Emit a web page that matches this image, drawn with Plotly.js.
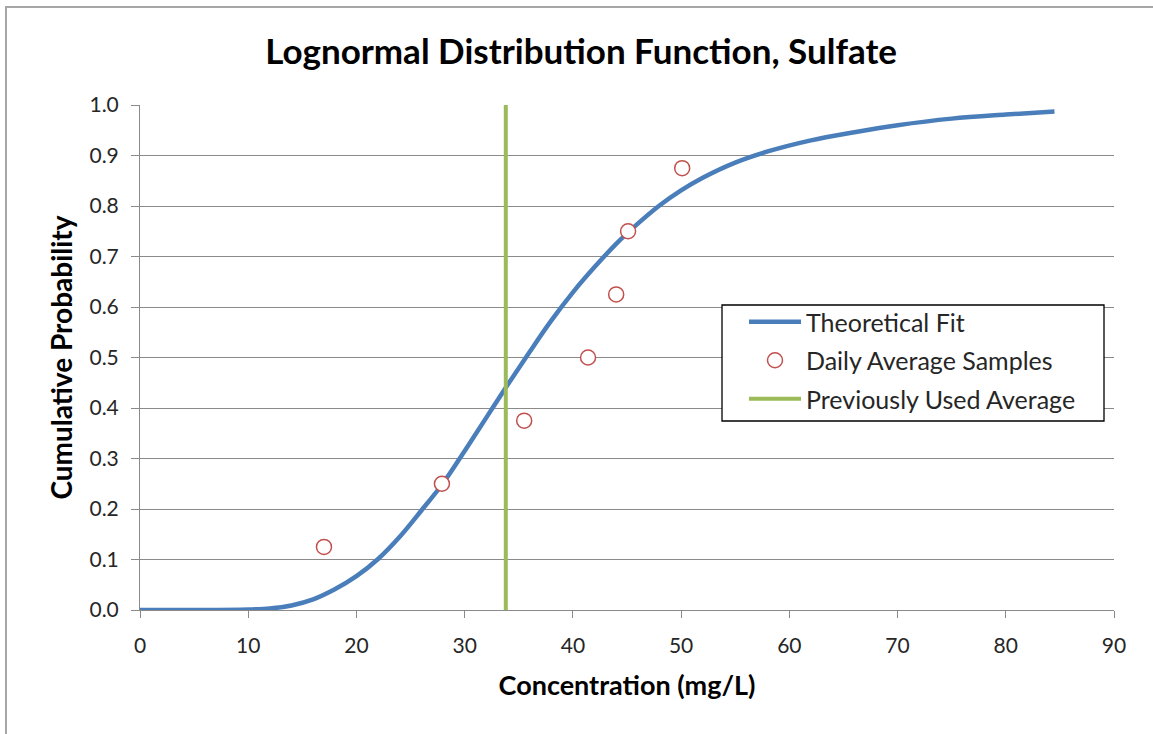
<!DOCTYPE html>
<html>
<head>
<meta charset="utf-8">
<script src="https://cdn.plot.ly/plotly-3.0.1.min.js"></script>
<style>
  html, body { margin: 0; padding: 0; background: #fff; }
  #wrap { position: relative; width: 1153px; height: 734px; overflow: hidden; }
  #chart { width: 1153px; height: 734px; }
  #frame { position: absolute; left: 5px; top: 6px; width: 1200px; height: 800px;
           border-top: 2px solid #a6a6a6; border-left: 2px solid #a6a6a6; pointer-events: none; }
</style>
</head>
<body>
<div id="wrap">
  <div id="chart"></div>
  <div id="frame"></div>
</div>
<script>
// Theoretical fit curve
const fitX = [0, 5, 10, 12, 14, 16, 18, 20, 22, 24, 26, 28, 30, 32, 34, 36, 38, 40, 42, 44, 46, 48, 50, 52, 55, 58, 62, 66, 70, 75, 80, 84.5];
const fitY = [0, 0, 0.001, 0.003, 0.009, 0.021, 0.041, 0.067, 0.101, 0.145, 0.197, 0.251, 0.315, 0.381, 0.447, 0.511, 0.573, 0.629, 0.679, 0.725, 0.765, 0.801, 0.831, 0.856, 0.886, 0.908, 0.930, 0.946, 0.960, 0.973, 0.981, 0.987];

// Daily average samples
const sampleX = [17, 27.9, 35.5, 41.4, 44.0, 45.1, 50.1];
const sampleY = [0.125, 0.25, 0.375, 0.5, 0.625, 0.75, 0.875];

// Previously used average
const prevAvg = 33.8;
const prevX = [prevAvg, prevAvg];
const prevY = [0, 1];

const seriesNames = ["Theoretical Fit", "Daily Average Samples", "Previously Used Average"];
const xTicks = [0, 10, 20, 30, 40, 50, 60, 70, 80, 90];
const yTicks = [0, 0.1, 0.2, 0.3, 0.4, 0.5, 0.6, 0.7, 0.8, 0.9, 1.0];

const FONT = "Lato, 'Open Sans', sans-serif";
const TXT = "#262626";
const GRID = "#8a8a8a";

const fit = {
  x: fitX, y: fitY, name: seriesNames[0], type: "scatter", mode: "lines",
  line: { color: "#4A7EBB", width: 4.5, shape: "spline", smoothing: 1 },
  legendgroup: "a", legendrank: 1
};
const samples = {
  x: sampleX, y: sampleY, name: seriesNames[1], type: "scatter", mode: "markers",
  marker: { symbol: "circle", size: 15, color: "#ffffff", line: { color: "#C0504D", width: 1.5 } },
  legendgroup: "b", legendrank: 2
};
const prev = {
  x: prevX, y: prevY, name: seriesNames[2], type: "scatter", mode: "lines",
  line: { color: "#9BBB59", width: 4 },
  legendgroup: "c", legendrank: 3
};

// plot area in pixels: x 140..1114, y 105..610
const px2x = p => (p - 140) / 974;
const px2y = p => (610 - p) / 505;

const layout = {
  width: 1153, height: 734,
  margin: { l: 140, r: 39, t: 105, b: 124 },
  paper_bgcolor: "#fff", plot_bgcolor: "#fff",
  font: { family: FONT, color: TXT },
  title: {
    text: "<b>Lognormal Distribution Function, Sulfate</b>",
    font: { family: FONT, size: 35, color: "#000" },
    x: 0.504, xref: "container", xanchor: "center",
    y: 1 - 52 / 734, yref: "container", yanchor: "middle"
  },
  xaxis: {
    range: [0, 90], tickvals: xTicks, ticktext: xTicks.map(String),
    showgrid: false, zeroline: false,
    showline: true, linecolor: GRID, linewidth: 1,
    ticks: "outside", ticklen: 7, tickcolor: GRID, tickwidth: 1,
    ticklabelstandoff: 10,
    tickfont: { family: FONT, size: 21, color: TXT },
    title: { text: "<b>Concentration (mg/L)</b>", font: { family: FONT, size: 27, color: "#000" }, standoff: 19 },
    fixedrange: true
  },
  yaxis: {
    range: [0, 1], tickvals: yTicks, ticktext: yTicks.map(v => v.toFixed(1)),
    showgrid: true, gridcolor: GRID, gridwidth: 1, zeroline: false,
    showline: true, linecolor: GRID, linewidth: 1,
    ticks: "outside", ticklen: 8, tickcolor: GRID, tickwidth: 1,
    ticklabelstandoff: 8,
    tickfont: { family: FONT, size: 21, color: TXT },
    title: { text: "<b>Cumulative Probability</b>", font: { family: FONT, size: 28, color: "#000" }, standoff: 8 },
    fixedrange: true
  },
  shapes: [{
    type: "rect", xref: "paper", yref: "paper", layer: "above",
    x0: px2x(722), x1: px2x(1104), y0: px2y(421), y1: px2y(305),
    fillcolor: "#ffffff", line: { color: "#000", width: 1.3 }
  }],
  showlegend: true,
  legend: {
    x: px2x(744), y: px2y(299), xanchor: "left", yanchor: "top",
    bgcolor: "rgba(0,0,0,0)", borderwidth: 0,
    font: { family: FONT, size: 25, color: TXT },
    traceorder: "grouped", tracegroupgap: 3, itemwidth: 52
  }
};

Plotly.newPlot("chart", [fit, prev, samples], layout, { staticPlot: true, displayModeBar: false });
</script>
</body>
</html>
